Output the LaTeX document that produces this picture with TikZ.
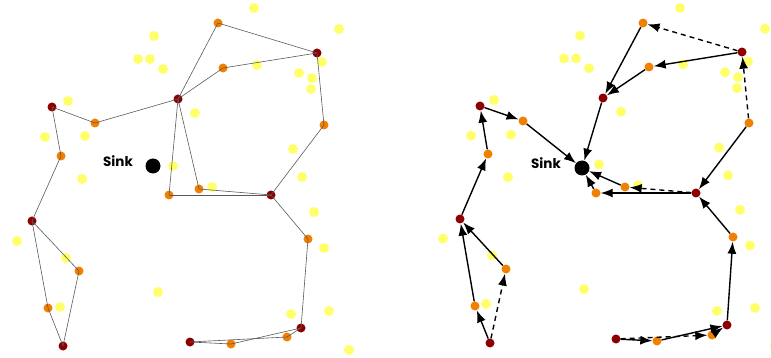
\documentclass[tikz,border=0pt]{standalone}
\usepackage{fontspec}
\newfontfamily\sinkfont{Poppins}
\usetikzlibrary{arrows.meta}
\definecolor{nred}{HTML}{8E0000}
\definecolor{norange}{HTML}{F28000}
\definecolor{nyellow}{HTML}{FFFF6A}
\tikzset{
  dot/.style={circle, inner sep=0pt, minimum size=9pt, draw=none},
  rd/.style={dot, fill=nred},
  od/.style={dot, fill=norange},
  yd/.style={dot, fill=nyellow, minimum size=10pt},
  sinkdot/.style={circle, fill=black, inner sep=0pt, minimum size=15pt},
  sinklabel/.style={font=\sinkfont\bfseries\fontsize{13.5}{13.5}\selectfont, inner sep=0pt},
  ln/.style={draw=black!65, line width=0.6pt},
  ar/.style={draw=black, line width=1.4pt, -{Latex[length=12pt,width=9pt]}},
  dar/.style={ar, dash pattern=on 5pt off 4pt},
}
\begin{document}
\begin{tikzpicture}[x=1pt,y=-1pt]
\useasboundingbox (0,0) rectangle (771,358);
\clip (0,0) rectangle (771,358);
% ---------- yellow dots (left and right copies) ----------
\foreach \px/\py [count=\i] in {154/36,138/59,150/59,163/69,68/101,45/137,85/136,173/166,82/179,254/8,339/29,322/62,257/65,299/73,312/78,311/89,195/113,293/149,302/177,212/187,17/241,66/258,60/307,158/292,314/212,324/248,291/314,329/311,349/350}{
  \node[yd] (ly\i) at (\px,\py) {};
  \node[yd] (ry\i) at ({\px+426},{\py*0.99}) {};
}
% ---------- LEFT nodes ----------
\node[rd] (lA) at (52,107) {};
\node[od] (lB) at (95,123) {};
\node[rd] (lC) at (178,99) {};
\node[od] (lD) at (61,156) {};
\node[od] (lE) at (218,23) {};
\node[rd] (lF) at (317,53) {};
\node[od] (lG) at (223,68) {};
\node[od] (lH) at (324,125) {};
\node[rd] (lI) at (271,195) {};
\node[od] (lJ) at (169,195) {};
\node[od] (lK) at (199,189) {};
\node[od] (lL) at (308,239) {};
\node[rd] (lM) at (32,221) {};
\node[od] (lN) at (79,271) {};
\node[od] (lO) at (48,308) {};
\node[rd] (lP) at (63,346) {};
\node[rd] (lQ) at (301,328) {};
\node[od] (lR) at (287,337) {};
\node[od] (lS) at (231,344) {};
\node[rd] (lT) at (190,342) {};
\node[sinkdot] (lSink) at (153,166) {};
\node[sinklabel] (lSinkT) at (118,161) {Sink};
% left edges
\foreach \a/\b in {A/B,B/C,A/D,D/M,M/N,M/O,O/P,N/P,C/E,E/F,C/G,G/F,F/H,H/I,C/J,C/K,J/I,K/I,I/L,L/Q,Q/R,T/R,T/S,S/Q}{
  \draw[ln] (l\a.center) -- (l\b.center);
}
% ---------- RIGHT nodes ----------
\node[rd] (rA) at (480,106) {};
\node[od] (rB) at (523,121) {};
\node[rd] (rC) at (603,98) {};
\node[od] (rD) at (488,154) {};
\node[od] (rE) at (643,23) {};
\node[rd] (rF) at (742,52) {};
\node[od] (rG) at (649,67) {};
\node[od] (rH) at (749,123) {};
\node[rd] (rI) at (696,193) {};
\node[od] (rJ) at (596,193) {};
\node[od] (rK) at (625,187) {};
\node[od] (rL) at (733,237) {};
\node[rd] (rM) at (460,219) {};
\node[od] (rN) at (506,269) {};
\node[od] (rO) at (475,306) {};
\node[rd] (rP) at (490,343) {};
\node[rd] (rQ) at (727,325) {};
\node[od] (rR) at (712,335) {};
\node[od] (rS) at (657,341) {};
\node[rd] (rT) at (616,339) {};
\node[sinkdot] (rSink) at (582,168) {};
\node[sinklabel] (rSinkT) at (546,163) {Sink};
% right edges: solid
\foreach \a/\b in {A/B,B/Sink,D/A,M/D,C/Sink,E/C,G/C,F/G,H/I,I/J,J/Sink,K/Sink,L/I,Q/L,N/M,O/M,P/O,T/S,S/Q,R/Q}{
  \draw[ar] (r\a) -- (r\b);
}
% right edges: dashed
\foreach \a/\b in {F/E,H/F,I/K,P/N,T/R}{
  \draw[dar] (r\a) -- (r\b);
}
\end{tikzpicture}
\end{document}
